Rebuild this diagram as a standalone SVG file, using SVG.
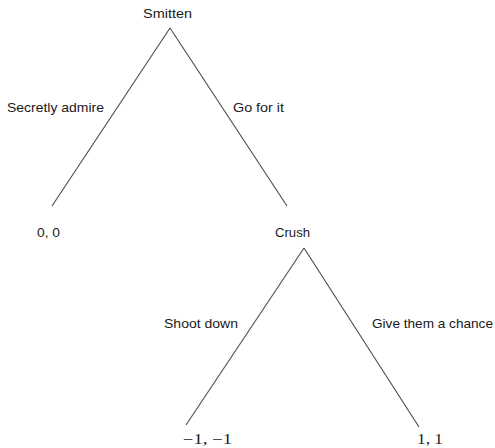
<svg xmlns="http://www.w3.org/2000/svg" width="495" height="448" viewBox="0 0 495 448">
<style>
.t{font-family:"Liberation Sans",Arial,sans-serif;font-size:13px;fill:#1a1a1a}
.p{font-family:"Liberation Serif","Times New Roman",serif;font-size:14px;fill:#1a1a1a}
.e{stroke:#4a4a4a;stroke-width:1.1;fill:none}
</style>
<rect width="495" height="448" fill="#ffffff"/>
<g id="connectors">
<line class="e" x1="170" y1="28" x2="52" y2="206"/>
<line class="e" x1="170" y1="28" x2="287" y2="206"/>
<line class="e" x1="304" y1="248" x2="186" y2="425"/>
<line class="e" x1="304" y1="248" x2="419" y2="427"/>
<text class="t" x="7" y="112" textLength="97" lengthAdjust="spacingAndGlyphs">Secretly admire</text>
<text class="t" x="233" y="112" textLength="51" lengthAdjust="spacingAndGlyphs">Go for it</text>
<text class="t" x="164" y="328" textLength="74" lengthAdjust="spacingAndGlyphs">Shoot down</text>
<text class="t" x="372" y="328" textLength="121" lengthAdjust="spacingAndGlyphs">Give them a chance</text>
</g>
<g id="smitten"><text class="t" x="143" y="18" textLength="49" lengthAdjust="spacingAndGlyphs">Smitten</text></g>
<g id="payoff-00"><text class="t" x="37" y="237" textLength="23" lengthAdjust="spacingAndGlyphs">0, 0</text></g>
<g id="crush"><text class="t" x="275" y="237" textLength="35" lengthAdjust="spacingAndGlyphs">Crush</text></g>
<g id="payoff-m1m1"><text class="p" x="183" y="444" textLength="49" lengthAdjust="spacingAndGlyphs">−1, −1</text></g>
<g id="payoff-11"><text class="p" x="417" y="444" textLength="26" lengthAdjust="spacingAndGlyphs">1, 1</text></g>
</svg>
